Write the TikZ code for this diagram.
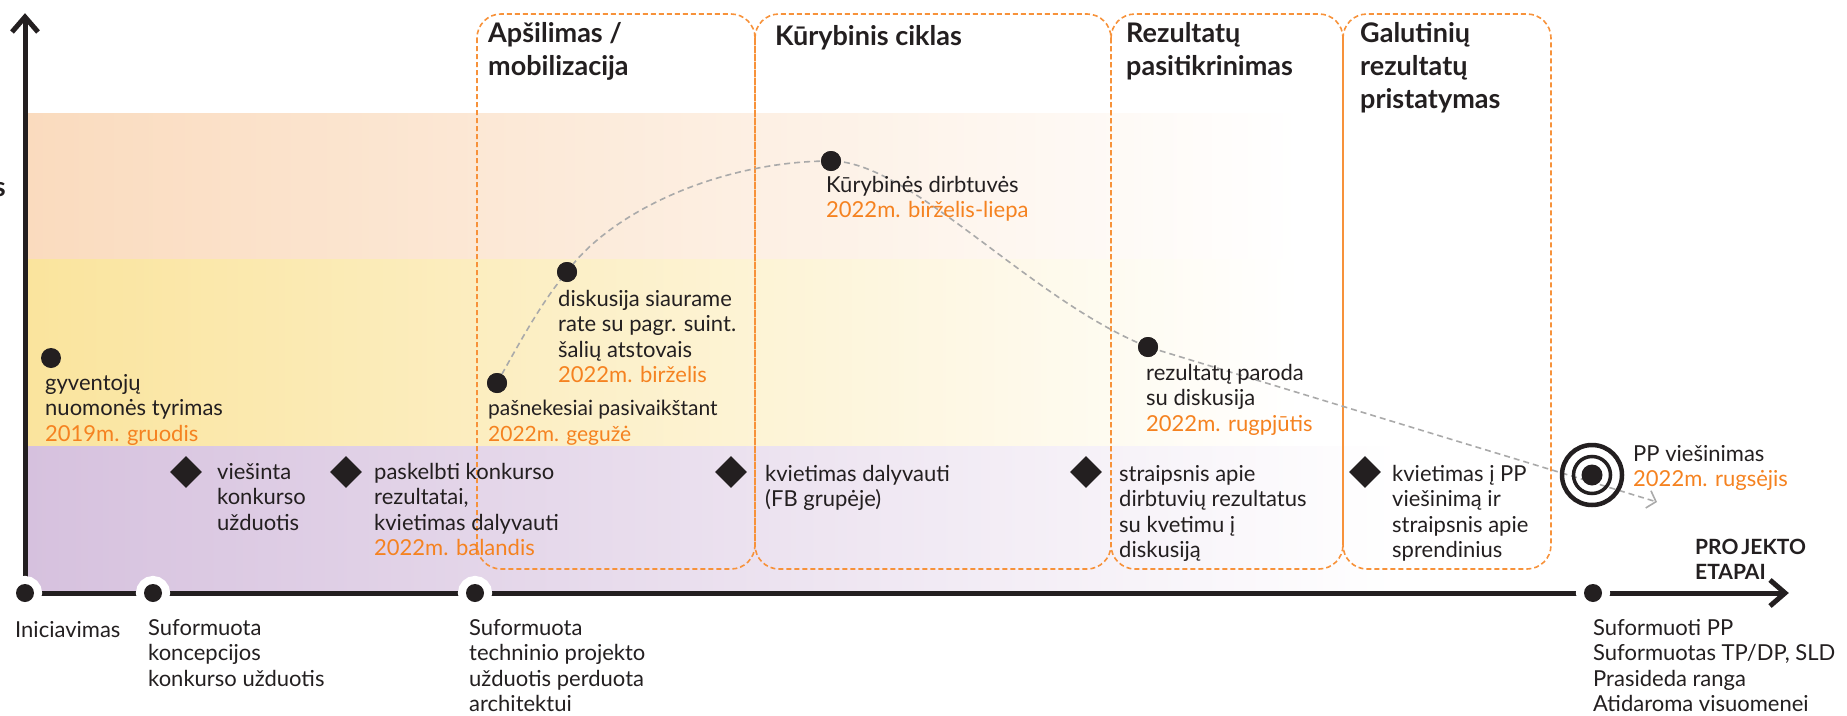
\documentclass[tikz,border=0pt]{standalone}
\usepackage{fontspec}
\setmainfont{Lato}
\usetikzlibrary{shapes.geometric,arrows.meta,calc}
\definecolor{ink}{HTML}{231F20}
\definecolor{dateor}{HTML}{F58220}
\definecolor{boxor}{HTML}{F7923A}
\definecolor{bandO}{HTML}{FADBBE}
\definecolor{bandY}{HTML}{FAE49D}
\definecolor{bandP}{HTML}{D6C1DE}
\definecolor{curvegray}{HTML}{AAAAAA}
\newcommand{\dt}[1]{\textcolor{dateor}{#1}}
\begin{document}
\begin{tikzpicture}[x=1pt,y=-1pt,
  txt/.style={font=\fontsize{22}{25.5}\selectfont, text=ink, align=left, anchor=north west, inner sep=0pt, execute at begin node=\strut},
  ttl/.style={font=\fontsize{27}{33}\selectfont\bfseries, text=ink, align=left, anchor=north west, inner sep=0pt, execute at begin node=\strut},
  evdot/.style={circle, fill=ink, minimum size=20pt, inner sep=0pt},
  diam/.style={diamond, fill=ink, minimum width=32pt, minimum height=32pt, inner sep=0pt},
  axisdot/.style={circle, fill=ink, minimum size=18pt, inner sep=0pt, preaction={draw=white, line width=16pt}},
  phase/.style={draw=boxor, dash pattern=on 5pt off 3pt, line width=1.6pt, rounded corners=24pt},
  axisline/.style={draw=ink, line width=5pt, line join=miter},
  flow/.style={draw=curvegray, line width=1.6pt, dash pattern=on 6pt off 4pt, -{Straight Barb[length=8pt,width=18pt,line width=1.6pt]}}
]
\useasboundingbox (0,0) rectangle (1847,715);
% bands
\shade[left color=bandO, right color=white] (25,113) rectangle (1300,259);
\shade[left color=bandY, right color=white] (25,259) rectangle (1300,446);
\shade[left color=bandP, right color=white] (25,446) rectangle (1400,593);
% phase boxes
\draw[phase] (477,14) rectangle (755,569);
\draw[phase] (755,14) rectangle (1111,569);
\draw[phase] (1111,14) rectangle (1343,569);
\draw[phase] (1343,14) rectangle (1551,569);
% titles
\node[ttl] (t1) at (488,22) {Apšilimas /\\mobilizacija};
\node[ttl] (t2) at (775,22) {Kūrybinis ciklas};
\node[ttl] (t3) at (1126,22) {Rezultatų\\pasitikrinimas};
\node[ttl] (t4) at (1360,22) {Galutinių\\rezultatų\\pristatymas};
\node[font=\fontsize{27}{33}\selectfont\bfseries, text=ink, anchor=base east, inner sep=0pt] (ylab) at (6,196) {s};
% axes
\coordinate (O) at (25,593);
\coordinate (ytip) at (25,17);
\coordinate (xtip) at (1785,593);
\draw[axisline] (O) -- (ytip);
\draw[axisline] ($(ytip)+(-13,15)$) -- (ytip) -- ($(ytip)+(13,15)$);
\draw[axisline] (O) -- (xtip);
\draw[axisline] ($(xtip)+(-15,-13)$) -- (xtip) -- ($(xtip)+(-15,13)$);
% event dots
\node[evdot] (g) at (51,358) {};
\node[evdot] (b) at (497,383) {};
\node[evdot] (c) at (567,272) {};
\node[evdot] (d) at (831,161) {};
\node[evdot] (e) at (1148,347) {};
\coordinate (fend) at (1657,502);
% flow curve
\draw[flow] (b.center) .. controls (522,338) and (543,300) .. (c.center)
  .. controls (610,212) and (720,161) .. (d.center)
  .. controls (910,161) and (1030,300) .. (e.center) -- (fend);
\node[evdot] at (b) {};
\node[evdot] at (c) {};
\node[evdot] at (d) {};
\node[evdot] at (e) {};
% target
\node[circle, draw=ink, line width=4.5pt, minimum size=60pt, inner sep=0pt] (tgt) at (1592,475) {};
\node[circle, draw=ink, line width=3.5pt, minimum size=37pt, inner sep=0pt] (tgtm) at (tgt) {};
\node[circle, fill=ink, minimum size=21pt, inner sep=0pt] (tgti) at (tgt) {};
% diamonds
\node[diam] (m1) at (186,472) {};
\node[diam] (m2) at (346,472) {};
\node[diam] (m3) at (731,472) {};
\node[diam] (m4) at (1086,472) {};
\node[diam] (m5) at (1365,472) {};
% axis dots
\node[axisdot] (a1) at (25,593) {};
\node[axisdot] (a2) at (153,593) {};
\node[axisdot] (a3) at (475,593) {};
\node[axisdot] (a4) at (1593,593) {};
% texts
\node[txt] (gt) at (45,374) {gyventojų\\nuomonės tyrimas\\\dt{2019m. gruodis}};
\node[txt, font=\fontsize{21}{25.5}\selectfont] (bt) at (488,400) {pašnekesiai pasivaikštant\\\dt{2022m. gegužė}};
\node[txt] (ct) at (558,290) {diskusija siaurame\\rate su pagr. suint.\\šalių atstovais\\\dt{2022m. birželis}};
\node[txt] (dtx) at (826,176) {Kūrybinės dirbtuvės\\\dt{2022m. birželis-liepa}};
\node[txt] (et) at (1146,364) {rezultatų paroda\\su diskusija\\\dt{2022m. rugpjūtis}};
\node[txt] (ppt) at (1633,445) {PP viešinimas\\\dt{2022m. rugsėjis}};
\node[txt] (m1t) at (217,463) {viešinta\\konkurso\\užduotis};
\node[txt] (m2t) at (374,463) {paskelbti konkurso\\rezultatai,\\kvietimas dalyvauti\\\dt{2022m. balandis}};
\node[txt] (m3t) at (765,465) {kvietimas dalyvauti\\(FB grupėje)};
\node[txt] (m4t) at (1119,465) {straipsnis apie\\dirbtuvių rezultatus\\su kvetimu į\\diskusiją};
\node[txt] (m5t) at (1392,465) {kvietimas į PP\\viešinimą ir\\straipsnis apie\\sprendinius};
\node[txt] (a1t) at (15,619) {Iniciavimas};
\node[txt] (a2t) at (148,619) {Suformuota\\koncepcijos\\konkurso užduotis};
\node[txt] (a3t) at (469,619) {Suformuota\\techninio projekto\\užduotis perduota\\architektui};
\node[txt] (a4t) at (1593,619) {Suformuoti PP\\Suformuotas TP/DP, SLD\\Prasideda ranga\\Atidaroma visuomenei};
\node[txt, font=\fontsize{21}{25}\selectfont\bfseries] (etp) at (1695,539) {PRO\kern3ptJEKTO\\ETAPAI};
\end{tikzpicture}
\end{document}
